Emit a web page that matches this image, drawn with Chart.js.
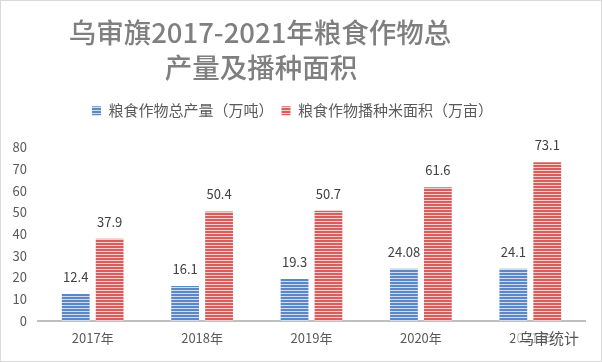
<!DOCTYPE html>
<html>
<head>
<meta charset="utf-8">
<script src="https://cdn.jsdelivr.net/npm/chart.js@4"></script>
<style>
  html, body { margin: 0; padding: 0; background: #fff; }
  #wrap { width: 602px; height: 362px; position: relative; }
</style>
</head>
<body>
<div id="wrap"><canvas id="grafico" width="602" height="362"></canvas></div>
<script>
const categorias = ['2017年', '2018年', '2019年', '2020年', '2021年'];
const produccion = [12.4, 16.1, 19.3, 24.08, 24.1];
const superficie = [37.9, 50.4, 50.7, 61.6, 73.1];
const etiquetasProd = ['12.4', '16.1', '19.3', '24.08', '24.1'];
const etiquetasSup = ['37.9', '50.4', '50.7', '61.6', '73.1'];
const ticksY = [0, 10, 20, 30, 40, 50, 60, 70, 80];
const titulo = ['乌审旗2017-2021年粮食作物总', '产量及播种面积'];

const fuente = '"Noto Sans CJK SC", "Noto Sans", sans-serif';

// Rayado horizontal como en la imagen
function rayas(oscuro, claro) {
  const c = document.createElement('canvas');
  c.width = 4; c.height = 3;
  const g = c.getContext('2d');
  g.fillStyle = claro; g.fillRect(0, 0, 4, 3);
  g.fillStyle = oscuro; g.fillRect(0, 0, 4, 2);
  return g.createPattern(c, 'repeat');
}
const ctx = document.getElementById('grafico').getContext('2d');
const azul = rayas('#5b87c7', '#cfdcf1');
const rojo = rayas('#d65f5e', '#f6cbcb');

// Más espacio debajo de la leyenda
const espacioLeyenda = {
  id: 'espacioLeyenda',
  beforeInit(chart) {
    const fitOriginal = chart.legend.fit;
    chart.legend.fit = function () {
      fitOriginal.call(this);
      this.height += 19;
    };
  }
};

// Título desplazado a la izquierda, como en el original
const tituloPropio = {
  id: 'tituloPropio',
  afterDraw(chart) {
    const c = chart.ctx;
    c.save();
    c.font = '500 27.5px ' + fuente;
    c.fillStyle = '#7f7f7f';
    c.textAlign = 'center';
    c.textBaseline = 'middle';
    c.fillText(titulo[0], 260, 33);
    c.fillText(titulo[1], 261, 68);
    c.restore();
  }
};

// Etiquetas encima de cada barra
const etiquetas = {
  id: 'etiquetas',
  afterDatasetsDraw(chart) {
    const c = chart.ctx;
    c.save();
    c.font = '13px ' + fuente;
    c.fillStyle = '#404040';
    c.textAlign = 'center';
    c.textBaseline = 'middle';
    const textos = [etiquetasProd, etiquetasSup];
    chart.data.datasets.forEach((ds, i) => {
      chart.getDatasetMeta(i).data.forEach((bar, j) => {
        c.fillText(textos[i][j], bar.x, bar.y - 17);
      });
    });
    c.restore();
  }
};

// Marco gris y marca de agua
const marco = {
  id: 'marco',
  afterDraw(chart) {
    const c = chart.ctx;
    c.save();
    c.strokeStyle = '#d9d9d9';
    c.lineWidth = 1;
    c.strokeRect(0.5, 0.5, chart.width - 1, chart.height - 1);
    c.font = '15px ' + fuente;
    c.fillStyle = 'rgba(255,255,255,0.6)';
    c.fillRect(515, 328, 68, 20);
    c.fillStyle = '#555555';
    c.textAlign = 'left';
    c.textBaseline = 'middle';
    c.fillText('乌审统计', 519, 338);
    c.restore();
  }
};

new Chart(ctx, {
  type: 'bar',
  data: {
    labels: categorias,
    datasets: [
      {
        label: '粮食作物总产量（万吨）',
        data: produccion,
        backgroundColor: azul,
        borderWidth: 0
      },
      {
        label: '粮食作物播种米面积（万亩）',
        data: superficie,
        backgroundColor: rojo,
        borderWidth: 0
      }
    ]
  },
  options: {
    responsive: false,
    animation: false,
    layout: { padding: { left: 0, right: 17, top: 0, bottom: 0 } },
    datasets: {
      bar: { categoryPercentage: 0.62, barPercentage: 0.82 }
    },
    plugins: {
      title: {
        display: true,
        text: titulo,
        color: 'rgba(0,0,0,0)',
        font: { family: fuente, size: 27, weight: '500', lineHeight: 1.3 },
        padding: { top: 13, bottom: 12 }
      },
      legend: {
        display: true,
        labels: {
          boxWidth: 9,
          boxHeight: 9,
          color: '#595959',
          font: { family: fuente, size: 15 },
          padding: 8
        }
      },
      tooltip: { enabled: false }
    },
    scales: {
      x: {
        grid: { display: false, drawTicks: false },
        border: { color: '#bfbfbf', width: 2 },
        ticks: { color: '#595959', font: { family: fuente, size: 13 }, padding: 9 },
        afterFit(scale) { scale.height = 41; }
      },
      y: {
        min: 0,
        max: 80,
        afterBuildTicks(scale) { scale.ticks = ticksY.map(v => ({ value: v })); },
        grid: { display: false, drawTicks: false },
        border: { display: false },
        ticks: { color: '#595959', font: { family: fuente, size: 13 }, padding: 11 },
        afterFit(scale) { scale.width = 38; }
      }
    }
  },
  plugins: [espacioLeyenda, tituloPropio, etiquetas, marco]
});
</script>
</body>
</html>
